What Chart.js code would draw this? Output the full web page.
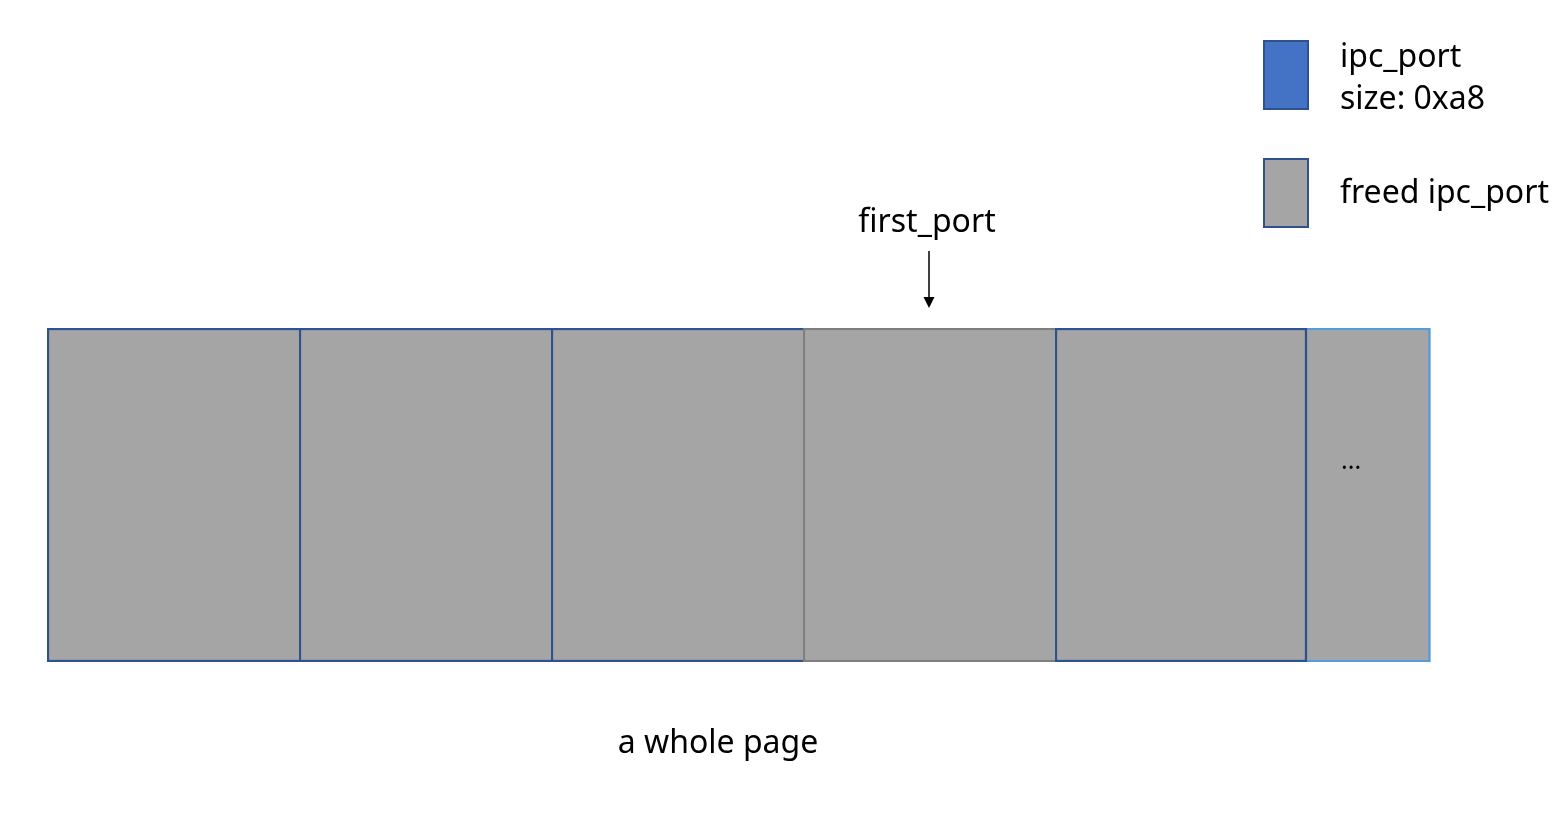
<!DOCTYPE html>
<html>
<head>
<meta charset="utf-8">
<title>a whole page</title>
<script src="https://cdn.jsdelivr.net/npm/chart.js@4.4.1/dist/chart.umd.min.js"></script>
<style>
  html, body { margin: 0; padding: 0; background: #fff; }
  #wrap { width: 1568px; height: 826px; }
</style>
</head>
<body>
<div id="wrap"><canvas id="pageChart"></canvas></div>
<script>
// one row = one page, each slot is one ipc_port (width in units of 0xa8 bytes)
const slotNames = ['port 0', 'port 1', 'port 2', 'first_port', 'port 4', '...'];
const slotWidths = [1, 1, 1, 1, 1, 0.49];
const slotEdges = ['#2f528f', '#2f528f', '#2f528f', '#7f7f7f', '#2f528f', '#5b9bd5'];
const pageLabel = 'a whole page';
const pointerLabel = 'first_port';
const pointerSlot = 3;
const legendLabels = [['ipc_port', 'size: 0xa8'], ['freed ipc_port']];
const legendFills = ['#4472c4', '#a5a5a5'];

const FREED = '#a5a5a5';
const FONT = '"Noto Sans", "Noto Sans CJK SC", sans-serif';
const EDGE = 2.5;

// which sides of each slot get a border line, so shared edges are drawn once
const sideWidths = (i) => {
  const last = i === slotWidths.length - 1;
  return {
    top: EDGE,
    bottom: EDGE,
    left: last ? 0 : EDGE,
    right: (i === 4 || last) ? EDGE : 0
  };
};

const datasets = slotWidths.map((w, i) => ({
  label: slotNames[i],
  data: [w],
  backgroundColor: FREED,
  borderColor: slotEdges[i],
  borderWidth: sideWidths(i),
  borderSkipped: false,
  barPercentage: 1,
  categoryPercentage: 1
}));

const overlay = {
  id: 'overlay',
  afterDraw(chart) {
    const { ctx, scales: { x }, chartArea } = chart;
    ctx.save();
    ctx.fillStyle = '#000';
    ctx.strokeStyle = '#000';

    // pointer to first_port
    const px = x.getPixelForValue(pointerSlot + slotWidths[pointerSlot] / 2);
    ctx.font = '32px ' + FONT;
    ctx.textAlign = 'center';
    ctx.textBaseline = 'middle';
    ctx.fillText(pointerLabel, px - 2, chartArea.top - 105);

    ctx.lineWidth = 1.5;
    ctx.beginPath();
    ctx.moveTo(px, chartArea.top - 77);
    ctx.lineTo(px, chartArea.top - 28);
    ctx.stroke();
    ctx.beginPath();
    ctx.moveTo(px - 5.5, chartArea.top - 31);
    ctx.lineTo(px + 5.5, chartArea.top - 31);
    ctx.lineTo(px, chartArea.top - 20);
    ctx.closePath();
    ctx.fill();

    // ellipsis in the partial last slot
    const total = slotWidths.reduce((a, b) => a + b, 0);
    const lastStart = total - slotWidths[slotWidths.length - 1];
    ctx.font = '25px ' + FONT;
    ctx.textBaseline = 'alphabetic';
    ctx.fillText('...', x.getPixelForValue(lastStart + 0.175), 469);

    // caption under the page
    ctx.font = '32px ' + FONT;
    ctx.textBaseline = 'middle';
    ctx.fillText(pageLabel, 718, chartArea.bottom + 82);

    // legend at top right
    const swatchTops = [41, 159];
    const textRows = [[58, 100], [194]];
    legendLabels.forEach((lines, i) => {
      ctx.fillStyle = legendFills[i];
      ctx.fillRect(1264, swatchTops[i], 44, 68);
      ctx.strokeStyle = '#2f528f';
      ctx.lineWidth = 2;
      ctx.strokeRect(1264, swatchTops[i], 44, 68);
      ctx.fillStyle = '#000';
      ctx.textAlign = 'left';
      ctx.textBaseline = 'middle';
      lines.forEach((t, j) => ctx.fillText(t, 1340, textRows[i][j]));
    });
    ctx.restore();
  }
};

new Chart(document.getElementById('pageChart'), {
  type: 'bar',
  data: { labels: ['page'], datasets: datasets },
  options: {
    indexAxis: 'y',
    responsive: true,
    maintainAspectRatio: false,
    animation: false,
    layout: { padding: { left: 47, right: 9, top: 328, bottom: 164 } },
    scales: {
      x: { stacked: true, min: 0, max: 6, display: false },
      y: { stacked: true, display: false }
    },
    plugins: {
      legend: { display: false },
      tooltip: { enabled: false }
    }
  },
  plugins: [overlay]
});
</script>
</body>
</html>
